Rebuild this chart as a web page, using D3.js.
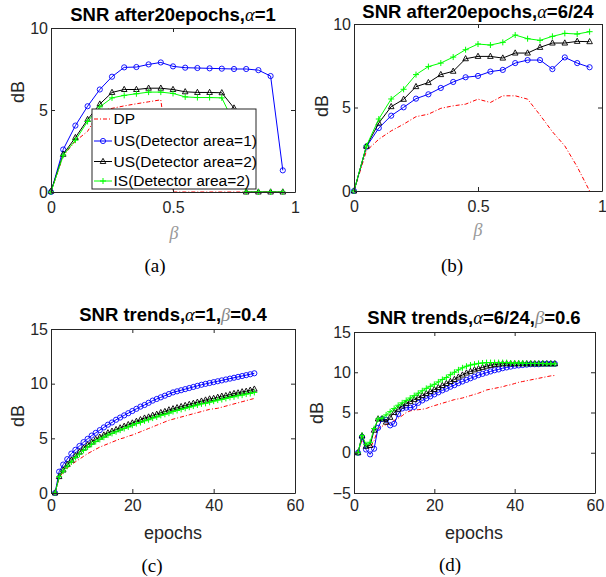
<!DOCTYPE html>
<html>
<head>
<meta charset="utf-8">
<script src="https://cdn.jsdelivr.net/npm/d3@7"></script>
<style>
  body { margin: 0; background: #fff; }
  text { font-family: "Liberation Sans", Arial, sans-serif; }
</style>
</head>
<body>
<svg width="606" height="577"></svg>
<script>
const svg = d3.select('svg');

// ---- data ----
const beta = [0,0.05,0.1,0.15,0.2,0.25,0.3,0.35,0.4,0.45,0.5,0.55,0.6,0.65,0.7,0.75,0.8,0.85,0.9,0.95];
const epochs = d3.range(1, 51);

// (a) alpha = 1
const aDP  = [0,2.2,3.1,3.7,4.95,5.1,5.25,5.38,5.5,5.62,0,0,0,0,0,0,0,0,0,0];
const aUS1 = [0,2.59,4.05,5.23,6.25,7.03,7.6,7.62,7.78,7.9,7.66,7.58,7.56,7.54,7.52,7.5,7.5,7.43,7.07,1.32];
const aUS2 = [0.05,2.3,3.32,4.42,5.36,6.07,6.25,6.25,6.33,6.33,6.25,6.11,6.07,6.07,6.05,5.12,0,0,0,0];
const aIS  = [0,2.24,3.16,4.3,5.19,5.74,5.89,5.99,6.09,6.09,6.01,5.8,5.76,5.76,5.74,4.2,0,0,0,0];

// (b) alpha = 6/24
const bDP  = [0,2.4,3.1,3.6,4.0,4.45,4.6,4.95,5.1,5.2,5.5,5.3,5.7,5.7,5.5,4.55,3.55,2.7,1.45,0];
const bUS1 = [0,2.65,3.77,4.51,5.01,5.53,5.79,6.17,6.53,6.81,6.89,7.15,7.25,7.66,7.84,7.84,7.3,8.0,7.66,7.41];
const bUS2 = [0,2.68,4.07,5.05,5.49,6.25,6.49,6.97,7.17,7.92,8.06,8.06,7.96,8.26,8.26,8.6,8.86,8.86,8.96,8.94];
const bIS  = [0,2.7,4.31,5.51,6.09,6.97,7.45,7.66,8.02,8.46,8.8,8.74,8.9,9.34,9.12,9.02,9.26,9.44,9.4,9.54];

// (c) alpha = 1, beta = 0.4
const cDP  = [0,1.4,1.9,2.3,2.6,2.85,3.1,3.35,3.6,3.8,4.0,4.2,4.35,4.5,4.65,4.8,4.95,5.05,5.2,5.3,
              5.45,5.6,5.75,5.9,6.05,6.2,6.35,6.5,6.65,6.75,6.85,6.95,7.05,7.15,7.25,7.35,7.45,7.55,7.65,7.7,
              7.75,7.85,7.95,8.05,8.15,8.25,8.35,8.45,8.55,8.65];
const cUS1 = [0,1.95,2.6,3.1,3.6,3.95,4.3,4.65,4.95,5.25,5.5,5.75,6.0,6.25,6.45,6.7,6.9,7.1,7.3,7.5,
              7.7,7.9,8.05,8.25,8.45,8.6,8.75,8.9,9.05,9.2,9.3,9.4,9.5,9.6,9.7,9.8,9.9,9.98,10.06,10.14,
              10.22,10.3,10.38,10.46,10.54,10.62,10.7,10.78,10.86,10.95];
const cUS2 = [0,1.5,2.1,2.6,3.0,3.4,3.75,4.1,4.4,4.65,4.9,5.1,5.3,5.5,5.65,5.8,5.95,6.1,6.25,6.4,
              6.55,6.7,6.85,6.95,7.1,7.2,7.35,7.45,7.6,7.7,7.8,7.9,8.0,8.1,8.2,8.3,8.4,8.5,8.6,8.65,
              8.75,8.85,8.9,9.0,9.1,9.15,9.25,9.3,9.4,9.5];
const cIS  = [0,1.5,2.0,2.45,2.85,3.25,3.55,3.9,4.2,4.45,4.7,4.9,5.1,5.3,5.45,5.6,5.75,5.9,6.05,6.2,
              6.35,6.45,6.6,6.7,6.85,6.95,7.1,7.2,7.3,7.45,7.55,7.65,7.75,7.85,7.95,8.05,8.15,8.2,8.3,8.4,
              8.5,8.55,8.65,8.75,8.8,8.9,8.95,9.05,9.1,9.2];

// (d) alpha = 6/24, beta = 0.6
const dDP  = [0,1.6,0.8,0.6,1.5,3.0,3.3,3.5,3.7,4.0,4.3,4.6,5.0,5.2,5.3,5.35,5.4,5.5,5.7,5.85,
              6.0,6.15,6.3,6.45,6.6,6.7,6.8,6.95,7.1,7.25,7.4,7.6,7.8,7.9,8.0,8.1,8.2,8.35,8.45,8.6,
              8.75,8.85,8.95,9.05,9.15,9.25,9.35,9.45,9.55,9.6];
const dUS1 = [0,1.95,0.4,-0.2,0.5,3.1,4.2,4.1,3.4,3.6,4.8,5.5,5.6,5.6,5.7,6.2,6.5,6.75,7.0,7.25,
              7.5,7.75,7.95,8.2,8.4,8.65,8.85,9.05,9.25,9.45,9.65,9.8,9.95,10.1,10.25,10.35,10.5,10.6,10.7,10.8,
              10.85,10.9,10.95,11.0,11.0,11.0,11.05,11.05,11.05,11.05];
const dUS2 = [0,2.1,0.8,0.9,2.8,4.2,4.2,3.8,4.4,5.0,5.4,5.8,6.1,6.35,6.6,6.85,7.1,7.35,7.6,7.85,
              8.1,8.35,8.6,8.85,9.1,9.4,9.65,9.9,10.1,10.3,10.45,10.6,10.75,10.85,10.95,11.0,11.05,11.05,11.05,11.05,
              11.05,11.05,11.05,11.05,11.05,11.05,11.05,11.05,11.05,11.05];
const dIS  = [0,2.15,1.0,1.3,3.0,4.2,4.3,4.7,5.1,5.5,5.9,6.2,6.5,6.8,7.1,7.4,7.7,8.0,8.25,8.5,
              8.8,9.1,9.35,9.7,10.0,10.3,10.55,10.75,10.9,11.0,11.1,11.15,11.2,11.2,11.2,11.2,11.2,11.2,11.15,11.15,
              11.15,11.15,11.1,11.1,11.1,11.1,11.1,11.05,11.05,11.05];

const seriesNames = ['DP','US(Detector area=1)','US(Detector area=2)','IS(Detector area=2)'];

// ---- styles ----
const styles = [
  {color: '#ff0000', dash: '4,2,1,2', marker: null},
  {color: '#0000ff', dash: null, marker: 'circle'},
  {color: '#000000', dash: null, marker: 'triangle'},
  {color: '#00ff00', dash: null, marker: 'plus'}
];
const axisColor = '#262626';

function drawMarker(g, type, color, x, y) {
  if (type === 'circle') {
    g.append('circle').attr('cx', x).attr('cy', y).attr('r', 2.6)
      .attr('fill', 'none').attr('stroke', color).attr('stroke-width', 0.9);
  } else if (type === 'triangle') {
    g.append('path').attr('transform', `translate(${x},${y})`)
      .attr('d', 'M0,-3.2L2.8,2L-2.8,2Z')
      .attr('fill', 'none').attr('stroke', color).attr('stroke-width', 0.9);
  } else if (type === 'plus') {
    g.append('path').attr('transform', `translate(${x},${y})`)
      .attr('d', 'M-3,0H3M0,-3V3')
      .attr('stroke', color).attr('stroke-width', 1);
  }
}

function panel(p) {
  const x = d3.scaleLinear().domain(p.xDomain).range([p.x0, p.x1]);
  const y = d3.scaleLinear().domain(p.yDomain).range([p.y1, p.y0]);
  const g = svg.append('g');

  // data
  p.data.forEach((vals, i) => {
    const st = styles[i];
    const line = d3.line().x((d, j) => x(p.xs[j])).y(d => y(d));
    g.append('path').datum(vals)
      .attr('d', line)
      .attr('fill', 'none')
      .attr('stroke', st.color)
      .attr('stroke-width', 1)
      .attr('stroke-dasharray', st.dash);
    if (st.marker) {
      const mg = g.append('g');
      vals.forEach((v, j) => drawMarker(mg, st.marker, st.color, x(p.xs[j]), y(v)));
    }
  });

  // axes (box with inward ticks)
  const styleAxis = sel => {
    sel.selectAll('path, line').attr('stroke', axisColor);
    sel.selectAll('text').attr('fill', axisColor).style('font-size', '16px')
      .style('font-family', '"Liberation Sans", Arial, sans-serif');
  };
  svg.append('g').attr('transform', `translate(0,${p.y1})`)
    .call(d3.axisBottom(x).tickValues(p.xTicks).tickFormat(d3.format('')).tickSizeInner(-4).tickSizeOuter(0).tickPadding(p.xPad))
    .call(styleAxis);
  svg.append('g').attr('transform', `translate(0,${p.y0})`)
    .call(d3.axisTop(x).tickValues(p.xTicks).tickFormat('').tickSizeInner(-4).tickSizeOuter(0))
    .call(styleAxis);
  svg.append('g').attr('transform', `translate(${p.x0},0)`)
    .call(d3.axisLeft(y).tickValues(p.yTicks).tickFormat(d3.format('')).tickSizeInner(-4).tickSizeOuter(0).tickPadding(3))
    .call(styleAxis);
  svg.append('g').attr('transform', `translate(${p.x1},0)`)
    .call(d3.axisRight(y).tickValues(p.yTicks).tickFormat('').tickSizeInner(-4).tickSizeOuter(0))
    .call(styleAxis);
  svg.selectAll('.domain').attr('stroke-width', 1);

  // title
  const t = svg.append('text').attr('x', p.titlePos[0]).attr('y', p.titlePos[1])
    .attr('text-anchor', 'middle').style('font-size', '18.5px').style('font-weight', 'bold');
  p.title.forEach(part => {
    const s = t.append('tspan').text(part.t);
    if (part.greek) s.style('font-family', '"Liberation Serif", serif').style('font-style', 'italic').style('font-weight', 'normal')
      .attr('fill', part.grey ? '#888' : '#000');
  });

  // y label
  svg.append('text').attr('transform', `translate(${p.yLabPos[0]},${p.yLabPos[1]}) rotate(-90)`)
    .attr('text-anchor', 'middle').attr('dy', '0.35em').attr('fill', axisColor)
    .style('font-size', '18px').text('dB');

  // x label
  const xl = svg.append('text').attr('x', p.xLabPos[0]).attr('y', p.xLabPos[1])
    .attr('text-anchor', 'middle').attr('dy', '0.35em').style('font-size', '18px');
  if (p.xLabel === 'β') xl.style('font-family', '"Liberation Serif", serif').style('font-style', 'italic').attr('fill', '#999').text('β');
  else xl.attr('fill', axisColor).text(p.xLabel);

  // caption
  svg.append('text').attr('x', p.capPos[0]).attr('y', p.capPos[1])
    .attr('text-anchor', 'middle').attr('dy', '0.35em')
    .style('font-family', '"Liberation Serif", "Times New Roman", serif').style('font-size', '19px')
    .text(p.caption);
}

panel({
  x0: 51, x1: 295, y0: 28, y1: 192, xDomain: [0, 1], yDomain: [0, 10],
  xTicks: [0, 0.5, 1], yTicks: [0, 5, 10], xPad: 10, xs: beta,
  data: [aDP, aUS1, aUS2, aIS],
  title: [{t: 'SNR after20epochs,'}, {t: 'α', greek: true}, {t: '=1'}], titlePos: [173, 20.5],
  yLabPos: [18, 92], xLabel: 'β', xLabPos: [174, 233], caption: '(a)', capPos: [155, 265]
});
panel({
  x0: 354, x1: 602, y0: 24, y1: 191, xDomain: [0, 1], yDomain: [0, 10],
  xTicks: [0, 0.5, 1], yTicks: [0, 5, 10], xPad: 10, xs: beta,
  data: [bDP, bUS1, bUS2, bIS],
  title: [{t: 'SNR after20epochs,'}, {t: 'α', greek: true}, {t: '=6/24'}], titlePos: [478, 17.7],
  yLabPos: [322, 106], xLabel: 'β', xLabPos: [478, 230], caption: '(b)', capPos: [452, 265]
});
panel({
  x0: 51, x1: 295, y0: 329, y1: 493, xDomain: [0, 60], yDomain: [0, 15],
  xTicks: [0, 20, 40, 60], yTicks: [0, 5, 10, 15], xPad: 7, xs: epochs,
  data: [cDP, cUS1, cUS2, cIS],
  title: [{t: 'SNR trends,'}, {t: 'α', greek: true}, {t: '=1,'}, {t: 'β', greek: true, grey: true}, {t: '=0.4'}], titlePos: [173, 321],
  yLabPos: [18, 416], xLabel: 'epochs', xLabPos: [173, 533], caption: '(c)', capPos: [152, 565]
});
panel({
  x0: 354, x1: 595, y0: 332, y1: 493, xDomain: [0, 60], yDomain: [-5, 15],
  xTicks: [0, 20, 40, 60], yTicks: [-5, 0, 5, 10, 15], xPad: 7, xs: epochs,
  data: [dDP, dUS1, dUS2, dIS],
  title: [{t: 'SNR trends,'}, {t: 'α', greek: true}, {t: '=6/24,'}, {t: 'β', greek: true, grey: true}, {t: '=0.6'}], titlePos: [474, 324],
  yLabPos: [317, 413], xLabel: 'epochs', xLabPos: [474, 533], caption: '(d)', capPos: [450, 564]
});

// legend in panel (a)
const leg = svg.append('g');
leg.append('rect').attr('x', 92).attr('y', 109).attr('width', 164).attr('height', 80)
  .attr('fill', '#fff').attr('stroke', axisColor).attr('stroke-width', 1);
const legY = [119, 141, 161.5, 181];
seriesNames.forEach((name, i) => {
  const st = styles[i];
  leg.append('line').attr('x1', 94).attr('x2', 112).attr('y1', legY[i]).attr('y2', legY[i])
    .attr('stroke', st.color).attr('stroke-width', 1).attr('stroke-dasharray', st.dash);
  if (st.marker) drawMarker(leg, st.marker, st.color, 103, legY[i]);
  leg.append('text').attr('x', 113.5).attr('y', legY[i]).attr('dy', '0.35em')
    .style('font-size', '15.5px').attr('fill', '#000').text(name);
});
</script>
</body>
</html>
